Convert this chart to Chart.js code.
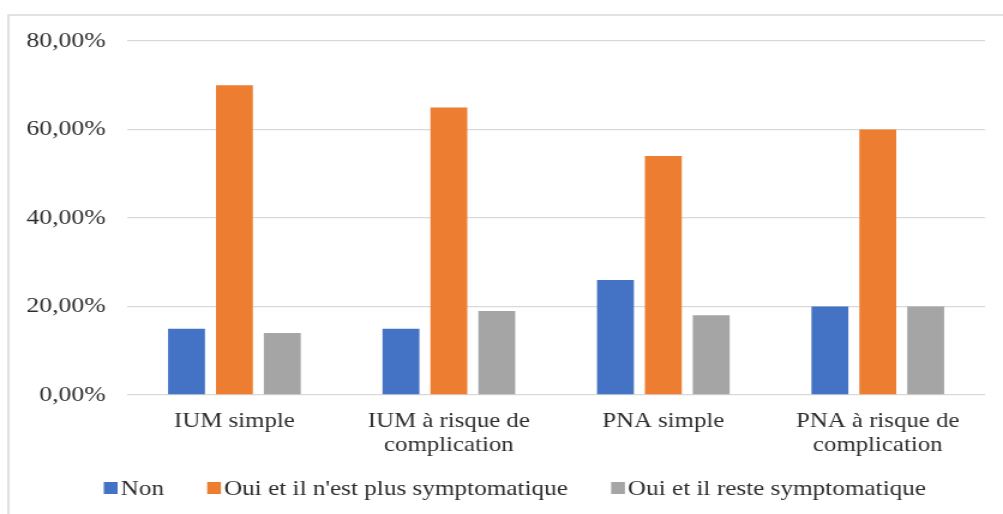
<!DOCTYPE html>
<html>
<head>
<meta charset="utf-8">
<script src="https://cdn.jsdelivr.net/npm/chart.js@4/dist/chart.umd.min.js"></script>
<style>
  html, body { margin: 0; padding: 0; background: #fff; overflow: hidden; }
  #wrap { position: absolute; left: 0; top: 0; width: 836px; height: 514px;
          transform: scaleX(1.19976); transform-origin: 0 0; }
</style>
</head>
<body>
<div id="wrap"><canvas id="c"></canvas></div>
<script>
const categories = [['IUM simple'], ['IUM à risque de', 'complication'], ['PNA simple'], ['PNA à risque de', 'complication']];
const seriesNames = ['Non', "Oui et il n'est plus symptomatique", 'Oui et il reste symptomatique'];
const nonValues = [15, 15, 26, 20];
const ouiPlusValues = [70, 65, 54, 60];
const ouiResteValues = [14, 19, 18, 20];
const yTickValues = [0, 20, 40, 60, 80];
const yTickLabels = ['0,00%', '20,00%', '40,00%', '60,00%', '80,00%'];
const seriesColors = ['#4472C4', '#ED7D31', '#A5A5A5'];

const FONT = '"Liberation Serif", "Times New Roman", serif';
const TEXT = '#2e2e2e';

const framePlugin = {
  id: 'frame',
  beforeDraw(chart) {
    const ctx = chart.ctx;
    ctx.save();
    ctx.strokeStyle = '#d9d9d9';
    ctx.lineWidth = 1.5;
    ctx.strokeRect(7, 15, chart.width + 20, chart.height + 20);
    ctx.restore();
  }
};

// Legend drawn from the chart's own datasets (Excel-like tight box/text spacing)
const legendPlugin = {
  id: 'excelLegend',
  afterDraw(chart) {
    const ctx = chart.ctx;
    ctx.save();
    ctx.font = '21px ' + FONT;
    ctx.textBaseline = 'middle';
    ctx.textAlign = 'left';
    const cy = 488;
    let x = 86.5;
    chart.data.datasets.forEach(ds => {
      ctx.fillStyle = ds.backgroundColor;
      ctx.fillRect(x, cy - 6, 11.5, 12);
      ctx.fillStyle = TEXT;
      ctx.fillText(ds.label, x + 14, cy + 1);
      x += 14 + ctx.measureText(ds.label).width + 36;
    });
    ctx.restore();
  }
};

new Chart(document.getElementById('c'), {
  type: 'bar',
  data: {
    labels: categories,
    datasets: [
      { label: seriesNames[0], data: nonValues, backgroundColor: seriesColors[0] },
      { label: seriesNames[1], data: ouiPlusValues, backgroundColor: seriesColors[1] },
      { label: seriesNames[2], data: ouiResteValues, backgroundColor: seriesColors[2] }
    ]
  },
  options: {
    responsive: true,
    maintainAspectRatio: false,
    animation: false,
    devicePixelRatio: 1,
    layout: { padding: { top: 41, left: 8, right: 15, bottom: 53 } },
    datasets: { bar: { categoryPercentage: 0.67, barPercentage: 0.77 } },
    plugins: {
      legend: { display: false },
      tooltip: { enabled: false }
    },
    scales: {
      x: {
        grid: { display: false },
        border: { display: false },
        ticks: { color: TEXT, padding: 7, font: { family: FONT, size: 20.7, lineHeight: 1.14 }, maxRotation: 0 },
        afterFit(scale) { scale.height = 66; }
      },
      y: {
        min: 0, max: 80,
        grid: { color: '#d9d9d9', lineWidth: 1.3, drawTicks: false },
        border: { display: false },
        afterBuildTicks(scale) { scale.ticks = yTickValues.map(v => ({ value: v })); },
        ticks: {
          color: TEXT, padding: 18, font: { family: FONT, size: 21.4 },
          callback(v) { const i = yTickValues.indexOf(v); return i >= 0 ? yTickLabels[i] : ''; }
        },
        afterFit(scale) { scale.width = 98; }
      }
    }
  },
  plugins: [framePlugin, legendPlugin]
});
</script>
</body>
</html>
